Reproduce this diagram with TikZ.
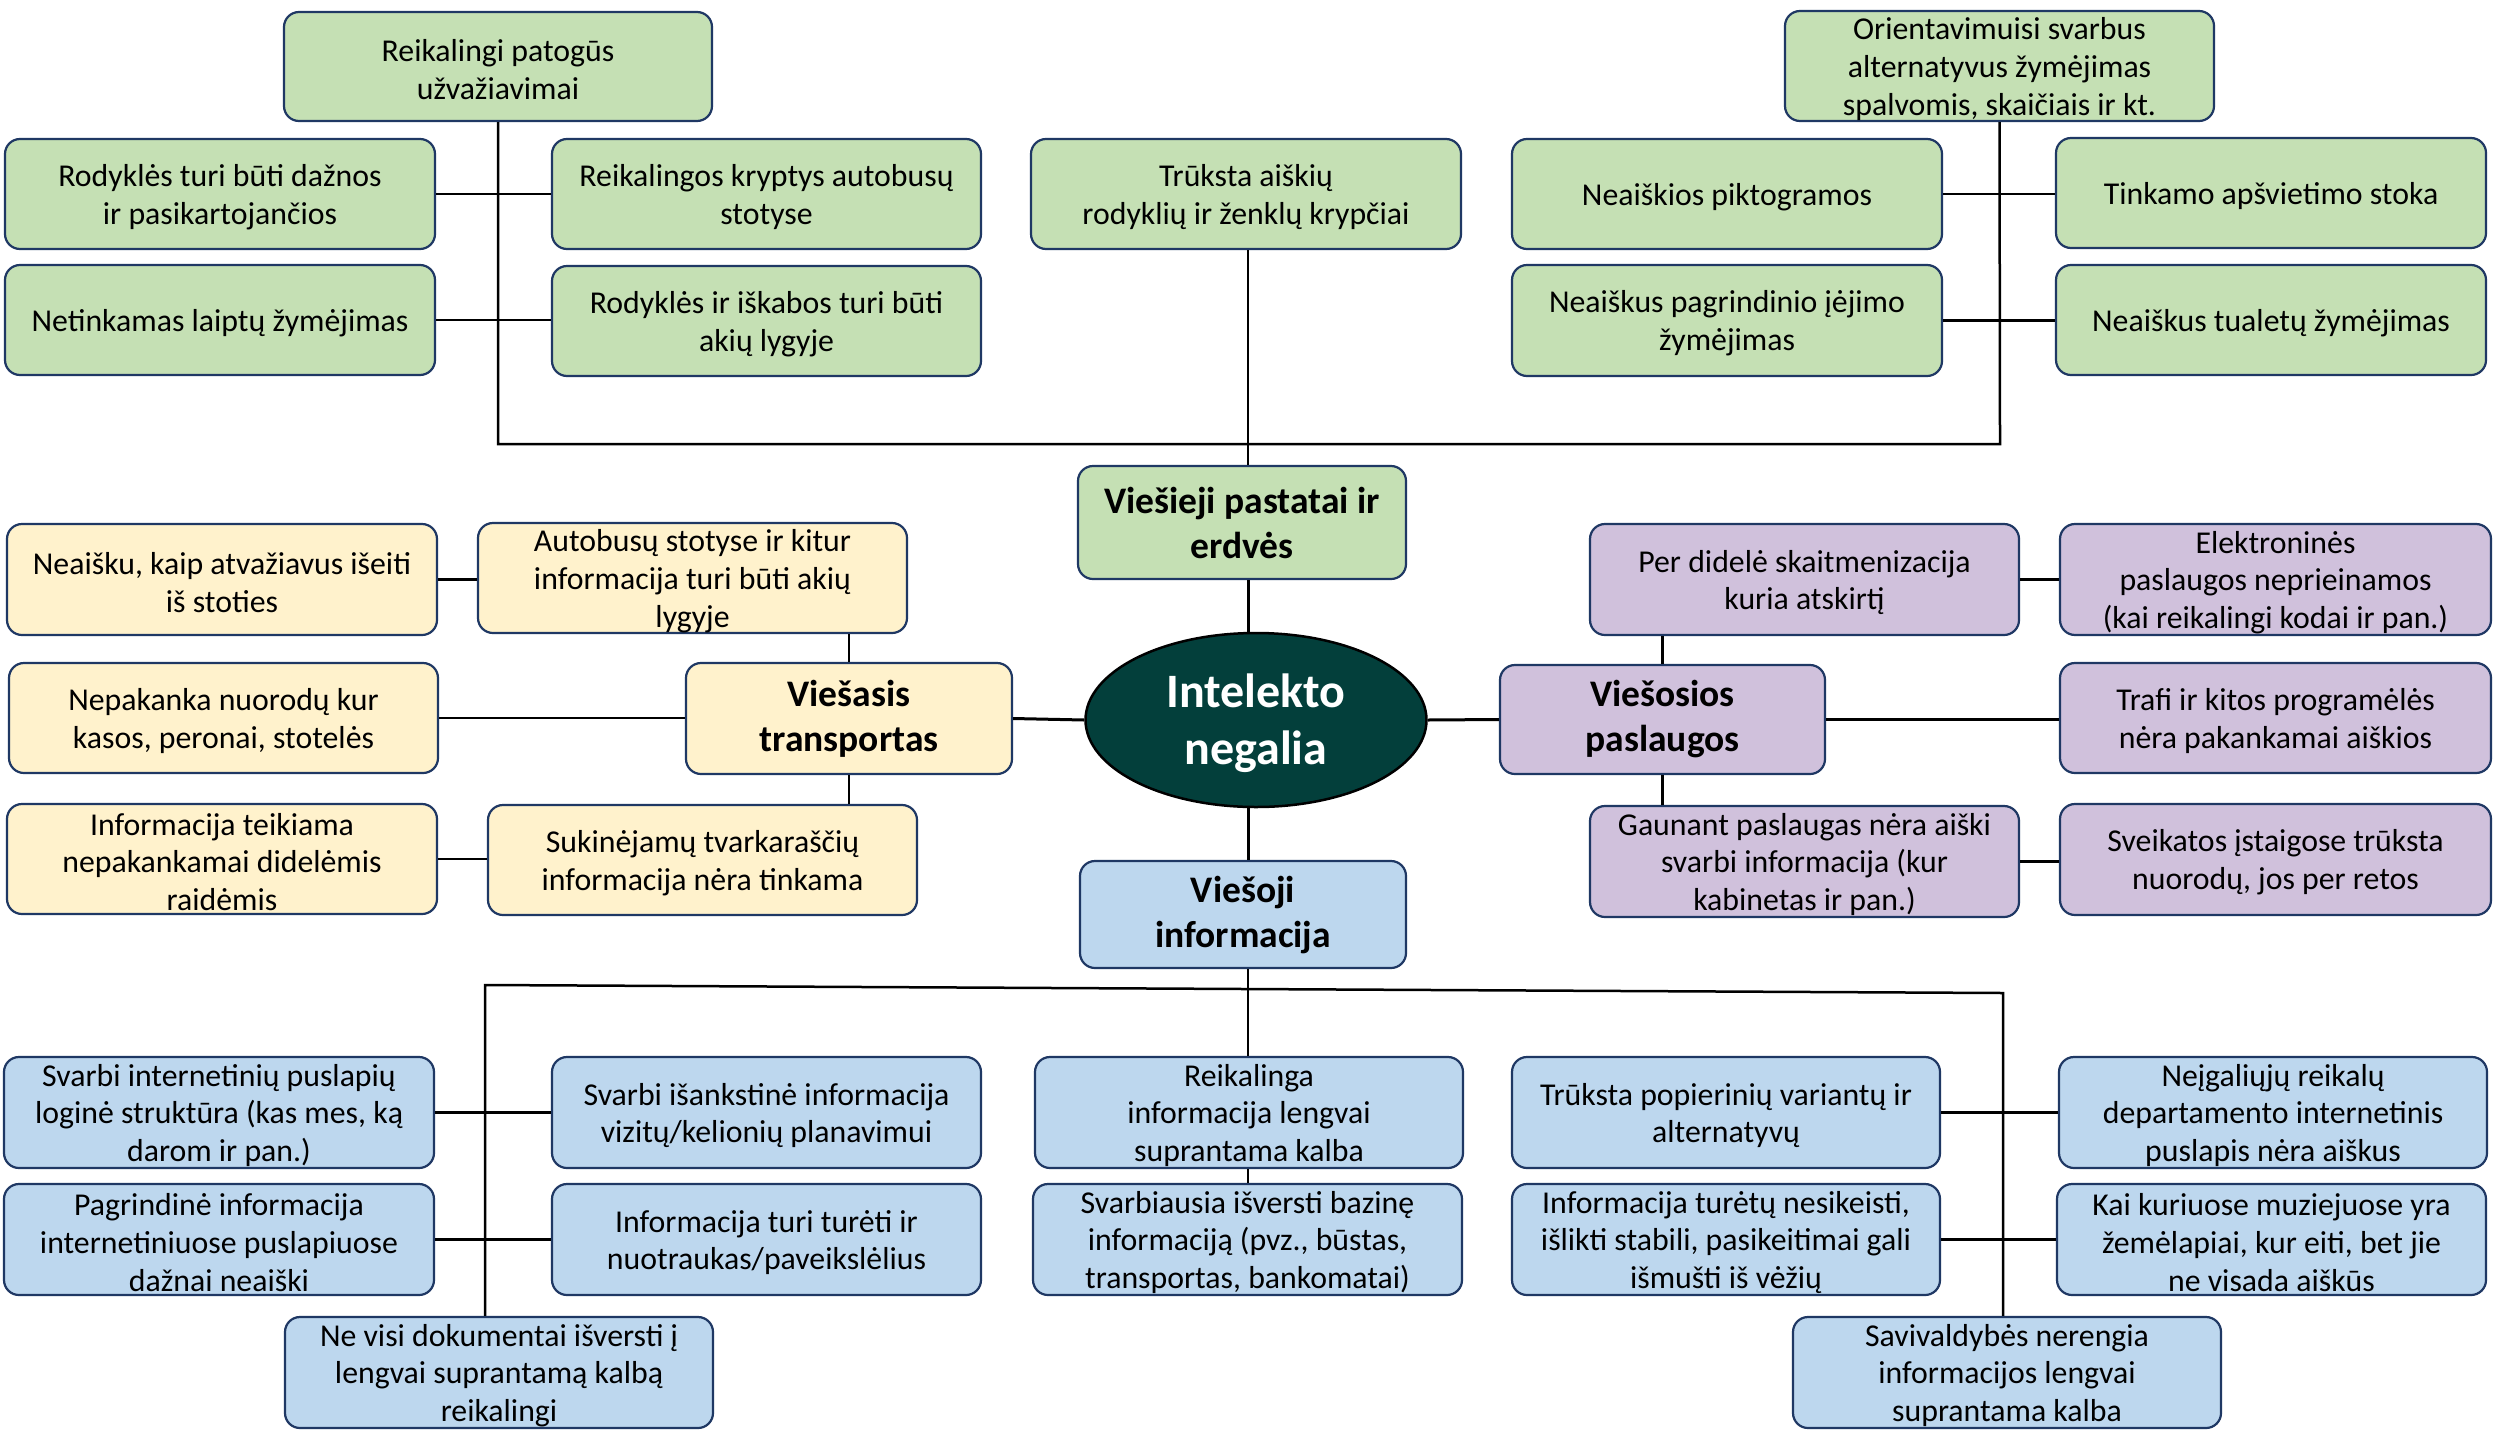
\documentclass[tikz,border=0pt]{standalone}
\usepackage{fontspec}
\setmainfont{Carlito}
\usetikzlibrary{shapes.geometric}
\definecolor{grf}{HTML}{C5E0B4}
\definecolor{ylf}{HTML}{FFF2CC}
\definecolor{puf}{HTML}{D0C1DC}
\definecolor{blf}{HTML}{BDD7EE}
\definecolor{nvy}{HTML}{1F3864}
\definecolor{ctr}{HTML}{033F3B}
\tikzset{
  basebox/.style={rectangle, draw=nvy, line width=2.2pt, rounded corners=15pt, inner sep=0pt},
  gbox/.style={basebox, fill=grf},
  ybox/.style={basebox, fill=ylf},
  pbox/.style={basebox, fill=puf},
  bbox/.style={basebox, fill=blf},
  txt/.style={align=center, inner sep=0pt, yshift=-3pt, font=\fontsize{31.8}{37.8}\selectfont},
  head/.style={align=center, inner sep=0pt, font=\bfseries\fontsize{37.5}{45}\selectfont},
  ctxt/.style={align=center, inner sep=0pt, yshift=-3pt, text=white, font=\bfseries\fontsize{48}{57}\selectfont},
  conn/.style={line width=2.5pt, black},
  mainconn/.style={line width=3pt, black},
}
\newcommand\Bx[8][txt]{%
  \node[#3, minimum width={(#6-#4)*1pt}, minimum height={(#7-#5)*1pt}] (#2) at ({(#4+#6)/2},{(#5+#7)/2}) {};
  \node[#1] (#2t) at (#2.center) {#8};}
\begin{document}
\begin{tikzpicture}[x=1pt,y=-1pt]
\useasboundingbox (0,0) rectangle (2496,1440);
\fill[white] (0,0) rectangle (2496,1440);

% coordinates for the trunk lines
\coordinate (ax) at (1248,0);
\coordinate (tl) at (496,444);
\coordinate (tr) at (2000,444);
\coordinate (bl) at (485,985);
\coordinate (br) at (2003,993);

% ---------- top group (green)
\Bx{rp}{gbox}{284}{12}{712}{121}{Reikalingi patogūs\\užvažiavimai}
\Bx{rd}{gbox}{5}{139}{435}{249}{Rodyklės turi būti dažnos\\ir pasikartojančios}
\Bx{rk2}{gbox}{552}{139}{981}{249}{Reikalingos kryptys autobusų\\stotyse}
\Bx{nl}{gbox}{5}{265}{435}{375}{Netinkamas laiptų žymėjimas}
\Bx{ri}{gbox}{552}{266}{981}{376}{Rodyklės ir iškabos turi būti\\akių lygyje}
\Bx{trk}{gbox}{1031}{139}{1461}{249}{Trūksta aiškių\\rodyklių ir ženklų krypčiai}
\Bx{ori}{gbox}{1785}{11}{2214}{121}{Orientavimuisi svarbus\\alternatyvus žymėjimas\\spalvomis, skaičiais ir kt.}
\Bx{np}{gbox}{1512}{139}{1942}{249}{Neaiškios piktogramos}
\Bx{ta}{gbox}{2056}{138}{2486}{248}{Tinkamo apšvietimo stoka}
\Bx{pg}{gbox}{1512}{265}{1942}{376}{Neaiškus pagrindinio įėjimo\\žymėjimas}
\Bx{tu}{gbox}{2056}{265}{2486}{375}{Neaiškus tualetų žymėjimas}
\Bx[head]{pst}{gbox}{1078}{466}{1406}{579}{Viešieji pastatai ir\\erdvės}

% ---------- left group (yellow)
\Bx{na}{ybox}{7}{524}{437}{635}{Neaišku, kaip atvažiavus išeiti\\iš stoties}
\Bx{au}{ybox}{478}{523}{907}{633}{Autobusų stotyse ir kitur\\informacija turi būti akių\\lygyje}
\Bx[head]{vt}{ybox}{686}{663}{1012}{774}{Viešasis\\transportas}
\Bx{nk}{ybox}{9}{663}{438}{773}{Nepakanka nuorodų kur\\kasos, peronai, stotelės}
\Bx{it}{ybox}{7}{804}{437}{914}{Informacija teikiama\\nepakankamai didelėmis\\raidėmis}
\Bx{su}{ybox}{488}{805}{917}{915}{Sukinėjamų tvarkaraščių\\informacija nėra tinkama}

% ---------- right group (purple)
\Bx{pd}{pbox}{1590}{524}{2019}{635}{Per didelė skaitmenizacija\\kuria atskirtį}
\Bx{el}{pbox}{2060}{524}{2491}{635}{Elektroninės\\paslaugos neprieinamos\\(kai reikalingi kodai ir pan.)}
\Bx[head]{vp}{pbox}{1500}{665}{1825}{774}{Viešosios\\paslaugos}
\Bx{tf}{pbox}{2060}{663}{2491}{773}{Trafi ir kitos programėlės\\nėra pakankamai aiškios}
\Bx{ga}{pbox}{1590}{806}{2019}{917}{Gaunant paslaugas nėra aiški\\svarbi informacija (kur\\kabinetas ir pan.)}
\Bx{sv}{pbox}{2060}{804}{2491}{915}{Sveikatos įstaigose trūksta\\nuorodų, jos per retos}

% ---------- bottom group (blue)
\Bx[head]{vo}{bbox}{1080}{861}{1406}{968}{Viešoji\\informacija}
\Bx{si}{bbox}{4}{1057}{434}{1168}{Svarbi internetinių puslapių\\loginė struktūra (kas mes, ką\\darom ir pan.)}
\Bx{sk}{bbox}{552}{1057}{981}{1168}{Svarbi išankstinė informacija\\vizitų/kelionių planavimui}
\Bx{rk}{bbox}{1035}{1057}{1463}{1168}{Reikalinga\\informacija lengvai\\suprantama kalba}
\Bx{tp}{bbox}{1512}{1057}{1940}{1168}{Trūksta popierinių variantų ir\\alternatyvų}
\Bx{ng}{bbox}{2059}{1057}{2487}{1168}{Neįgaliųjų reikalų\\departamento internetinis\\puslapis nėra aiškus}
\Bx{pi}{bbox}{4}{1184}{434}{1295}{Pagrindinė informacija\\internetiniuose puslapiuose\\dažnai neaiški}
\Bx{itt}{bbox}{552}{1184}{981}{1295}{Informacija turi turėti ir\\nuotraukas/paveikslėlius}
\Bx{sb}{bbox}{1033}{1184}{1462}{1295}{Svarbiausia išversti bazinę\\informaciją (pvz., būstas,\\transportas, bankomatai)}
\Bx{inf}{bbox}{1512}{1184}{1940}{1295}{Informacija turėtų nesikeisti,\\išlikti stabili, pasikeitimai gali\\išmušti iš vėžių}
\Bx{kk}{bbox}{2057}{1184}{2486}{1295}{Kai kuriuose muziejuose yra\\žemėlapiai, kur eiti, bet jie\\ne visada aiškūs}
\Bx{ne}{bbox}{285}{1317}{713}{1428}{Ne visi dokumentai išversti į\\lengvai suprantamą kalbą\\reikalingi}
\Bx{sav}{bbox}{1793}{1317}{2221}{1428}{Savivaldybės nerengia\\informacijos lengvai\\suprantama kalba}

% ---------- centre
\node[ellipse, draw=black, line width=2.5pt, fill=ctr, minimum width=341pt, minimum height=174pt, inner sep=0pt] (c) at (1256,720) {};
\node[ctxt] (ct) at (c.center) {Intelekto\\negalia};

% ---------- connectors
% top
\draw[conn] (rp.south) -- (rp.south |- tl) -- (tr) -- (ori.south);
\draw[conn] (rd.east) -- (rd.east -| rk2.west);
\draw[conn] (nl.east) -- (nl.east -| ri.west);
\draw[conn] (np.east) -- (np.east -| ta.west);
\draw[conn] (pg.east) -- (pg.east -| tu.west);
\draw[conn] (trk.south -| ax) -- (pst.north -| ax);
\draw[mainconn] (pst.south -| ax) -- (c.north -| ax);
% left
\draw[mainconn] (vt.east) -- (c.west);
\draw[conn] (na.east) -- (na.east -| au.west);
\draw[conn] (nk.east) -- (nk.east -| vt.west);
\draw[conn] (it.east) -- (it.east -| su.west);
\draw[conn] (vt.north) -- (vt.north |- au.south);
\draw[conn] (vt.south) -- (vt.south |- su.north);
% right
\draw[mainconn] (c.east) -- (vp.west);
\draw[conn] (pd.east) -- (pd.east -| el.west);
\draw[conn] (vp.east) -- (vp.east -| tf.west);
\draw[conn] (ga.east) -- (ga.east -| sv.west);
\draw[conn] (vp.north) -- (vp.north |- pd.south);
\draw[conn] (vp.south) -- (vp.south |- ga.north);
% bottom
\draw[mainconn] (c.south -| ax) -- (vo.north -| ax);
\draw[conn] (vo.south -| ax) -- (rk.north -| ax);
\draw[conn] (rk.south -| ax) -- (sb.north -| ax);
\draw[conn] (ne.north -| bl) -- (bl) -- (br) -- (sav.north -| br);
\draw[conn] (si.east) -- (si.east -| sk.west);
\draw[conn] (pi.east) -- (pi.east -| itt.west);
\draw[conn] (tp.east) -- (tp.east -| ng.west);
\draw[conn] (inf.east) -- (inf.east -| kk.west);
\end{tikzpicture}
\end{document}
